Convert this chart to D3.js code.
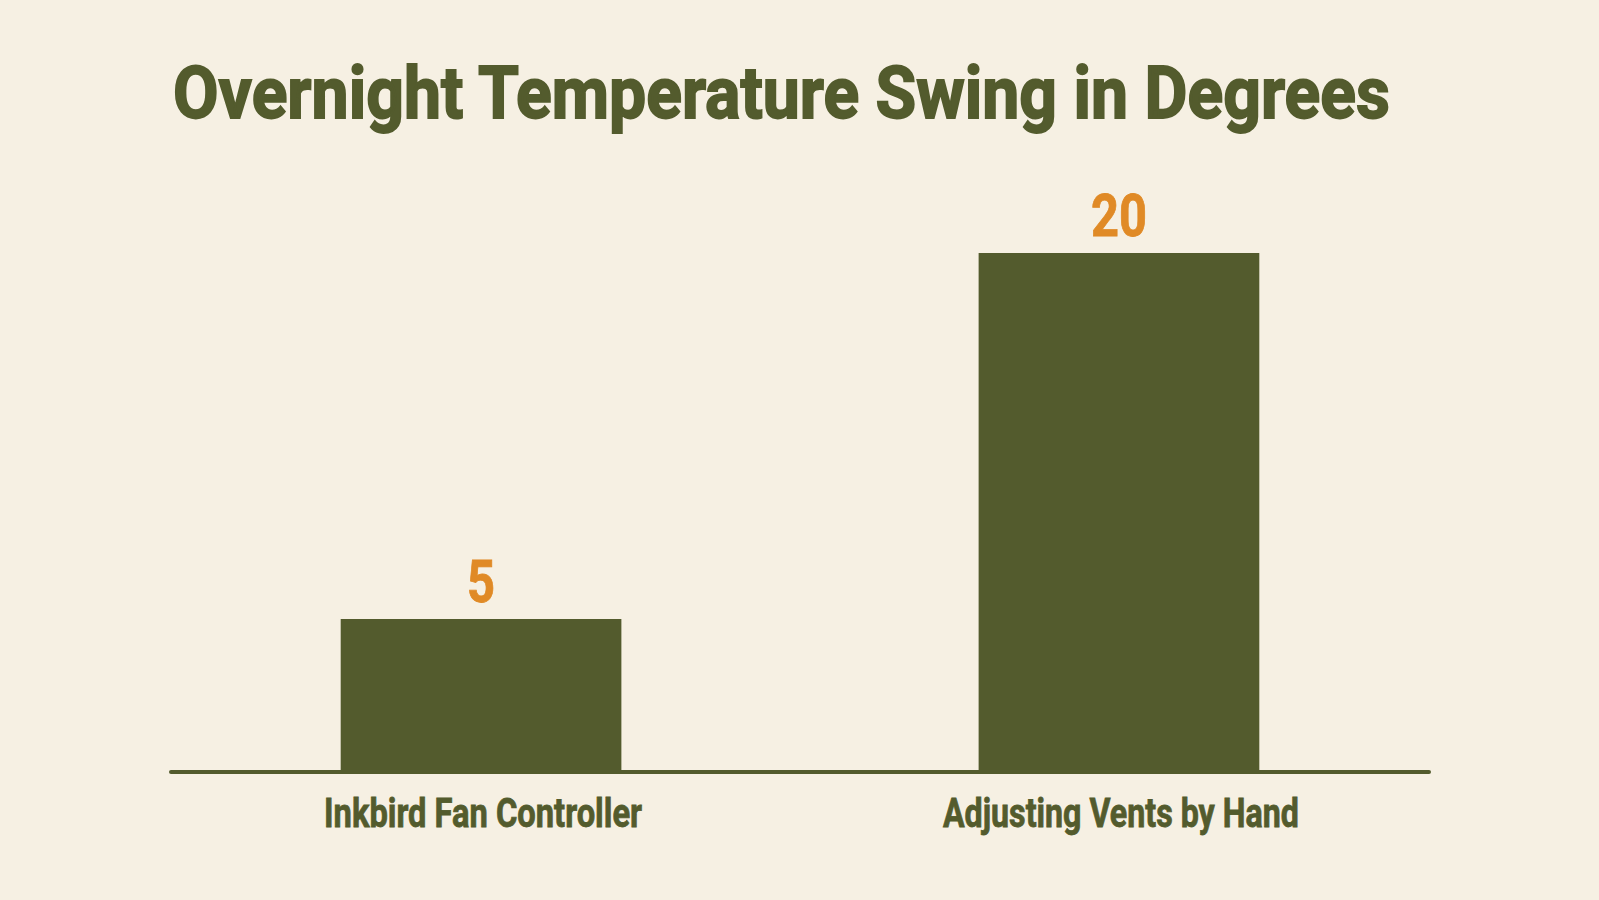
<!DOCTYPE html>
<html lang="en">
<head>
    <meta charset="utf-8">
    <script src="https://cdn.jsdelivr.net/npm/d3@7"></script>
    <style>
        html, body { margin: 0; padding: 0; background: #f6f0e3; }
        svg { display: block; }
        text { font-family: Roboto, "Liberation Sans", sans-serif; font-weight: 700; }
    </style>
</head>
<body>
    <svg width="1599" height="900"></svg>
    <script>
        var categories = ["Inkbird Fan Controller", "Adjusting Vents by Hand"];
        var values = [5, 20];
        var valueLabels = ["5", "20"];
        var title = "Overnight Temperature Swing in Degrees";

        var green = "#535b2d",
            orange = "#e08a26";

        var svg = d3.select("svg");

        var baseY = 772,
            left = 171,
            right = 1429;

        var xScale = d3.scaleBand()
            .domain(categories)
            .range([left, right])
            .paddingInner(0.56)
            .paddingOuter(0.266);

        // the picture's bars are not drawn from a true zero, so the domain is offset to match
        var yScale = d3.scaleLinear()
            .domain([-1.27, 20])
            .range([baseY, 253]);

        // title
        svg.append("text")
            .attr("x", 173)
            .attr("y", 118)
            .attr("font-size", "73px")
            .attr("fill", green)
            .attr("stroke", green)
            .attr("stroke-width", 1.8)
            .attr("textLength", 1217)
            .attr("lengthAdjust", "spacingAndGlyphs")
            .text(title);

        // bars
        svg.append("g")
            .selectAll("rect")
            .data(values)
            .enter().append("rect")
            .attr("x", function(d, i) { return xScale(categories[i]); })
            .attr("y", function(d) { return yScale(d); })
            .attr("width", xScale.bandwidth())
            .attr("height", function(d) { return baseY - yScale(d); })
            .attr("fill", green);

        // baseline
        svg.append("line")
            .attr("x1", left)
            .attr("x2", right)
            .attr("y1", baseY)
            .attr("y2", baseY)
            .attr("stroke", green)
            .attr("stroke-width", 4)
            .attr("stroke-linecap", "round");

        // value labels
        svg.append("g")
            .selectAll("text")
            .data(values)
            .enter().append("text")
            .attr("x", function(d, i) { return xScale(categories[i]) + xScale.bandwidth() / 2; })
            .attr("y", function(d) { return yScale(d) - 17; })
            .attr("text-anchor", "middle")
            .attr("font-size", "59px")
            .attr("fill", orange)
            .attr("stroke", orange)
            .attr("stroke-width", 0.8)
            .attr("textLength", function(d, i) { return valueLabels[i].length * 28; })
            .attr("lengthAdjust", "spacingAndGlyphs")
            .text(function(d, i) { return valueLabels[i]; });

        // category labels
        var labelWidths = [318, 356];
        svg.append("g")
            .selectAll("text")
            .data(categories)
            .enter().append("text")
            .attr("x", function(d) { return xScale(d) + xScale.bandwidth() / 2 + 2; })
            .attr("y", 827)
            .attr("text-anchor", "middle")
            .attr("font-size", "40px")
            .attr("fill", green)
            .attr("stroke", green)
            .attr("stroke-width", 0.8)
            .attr("textLength", function(d, i) { return labelWidths[i]; })
            .attr("lengthAdjust", "spacingAndGlyphs")
            .text(function(d) { return d; });
    </script>
</body>
</html>
